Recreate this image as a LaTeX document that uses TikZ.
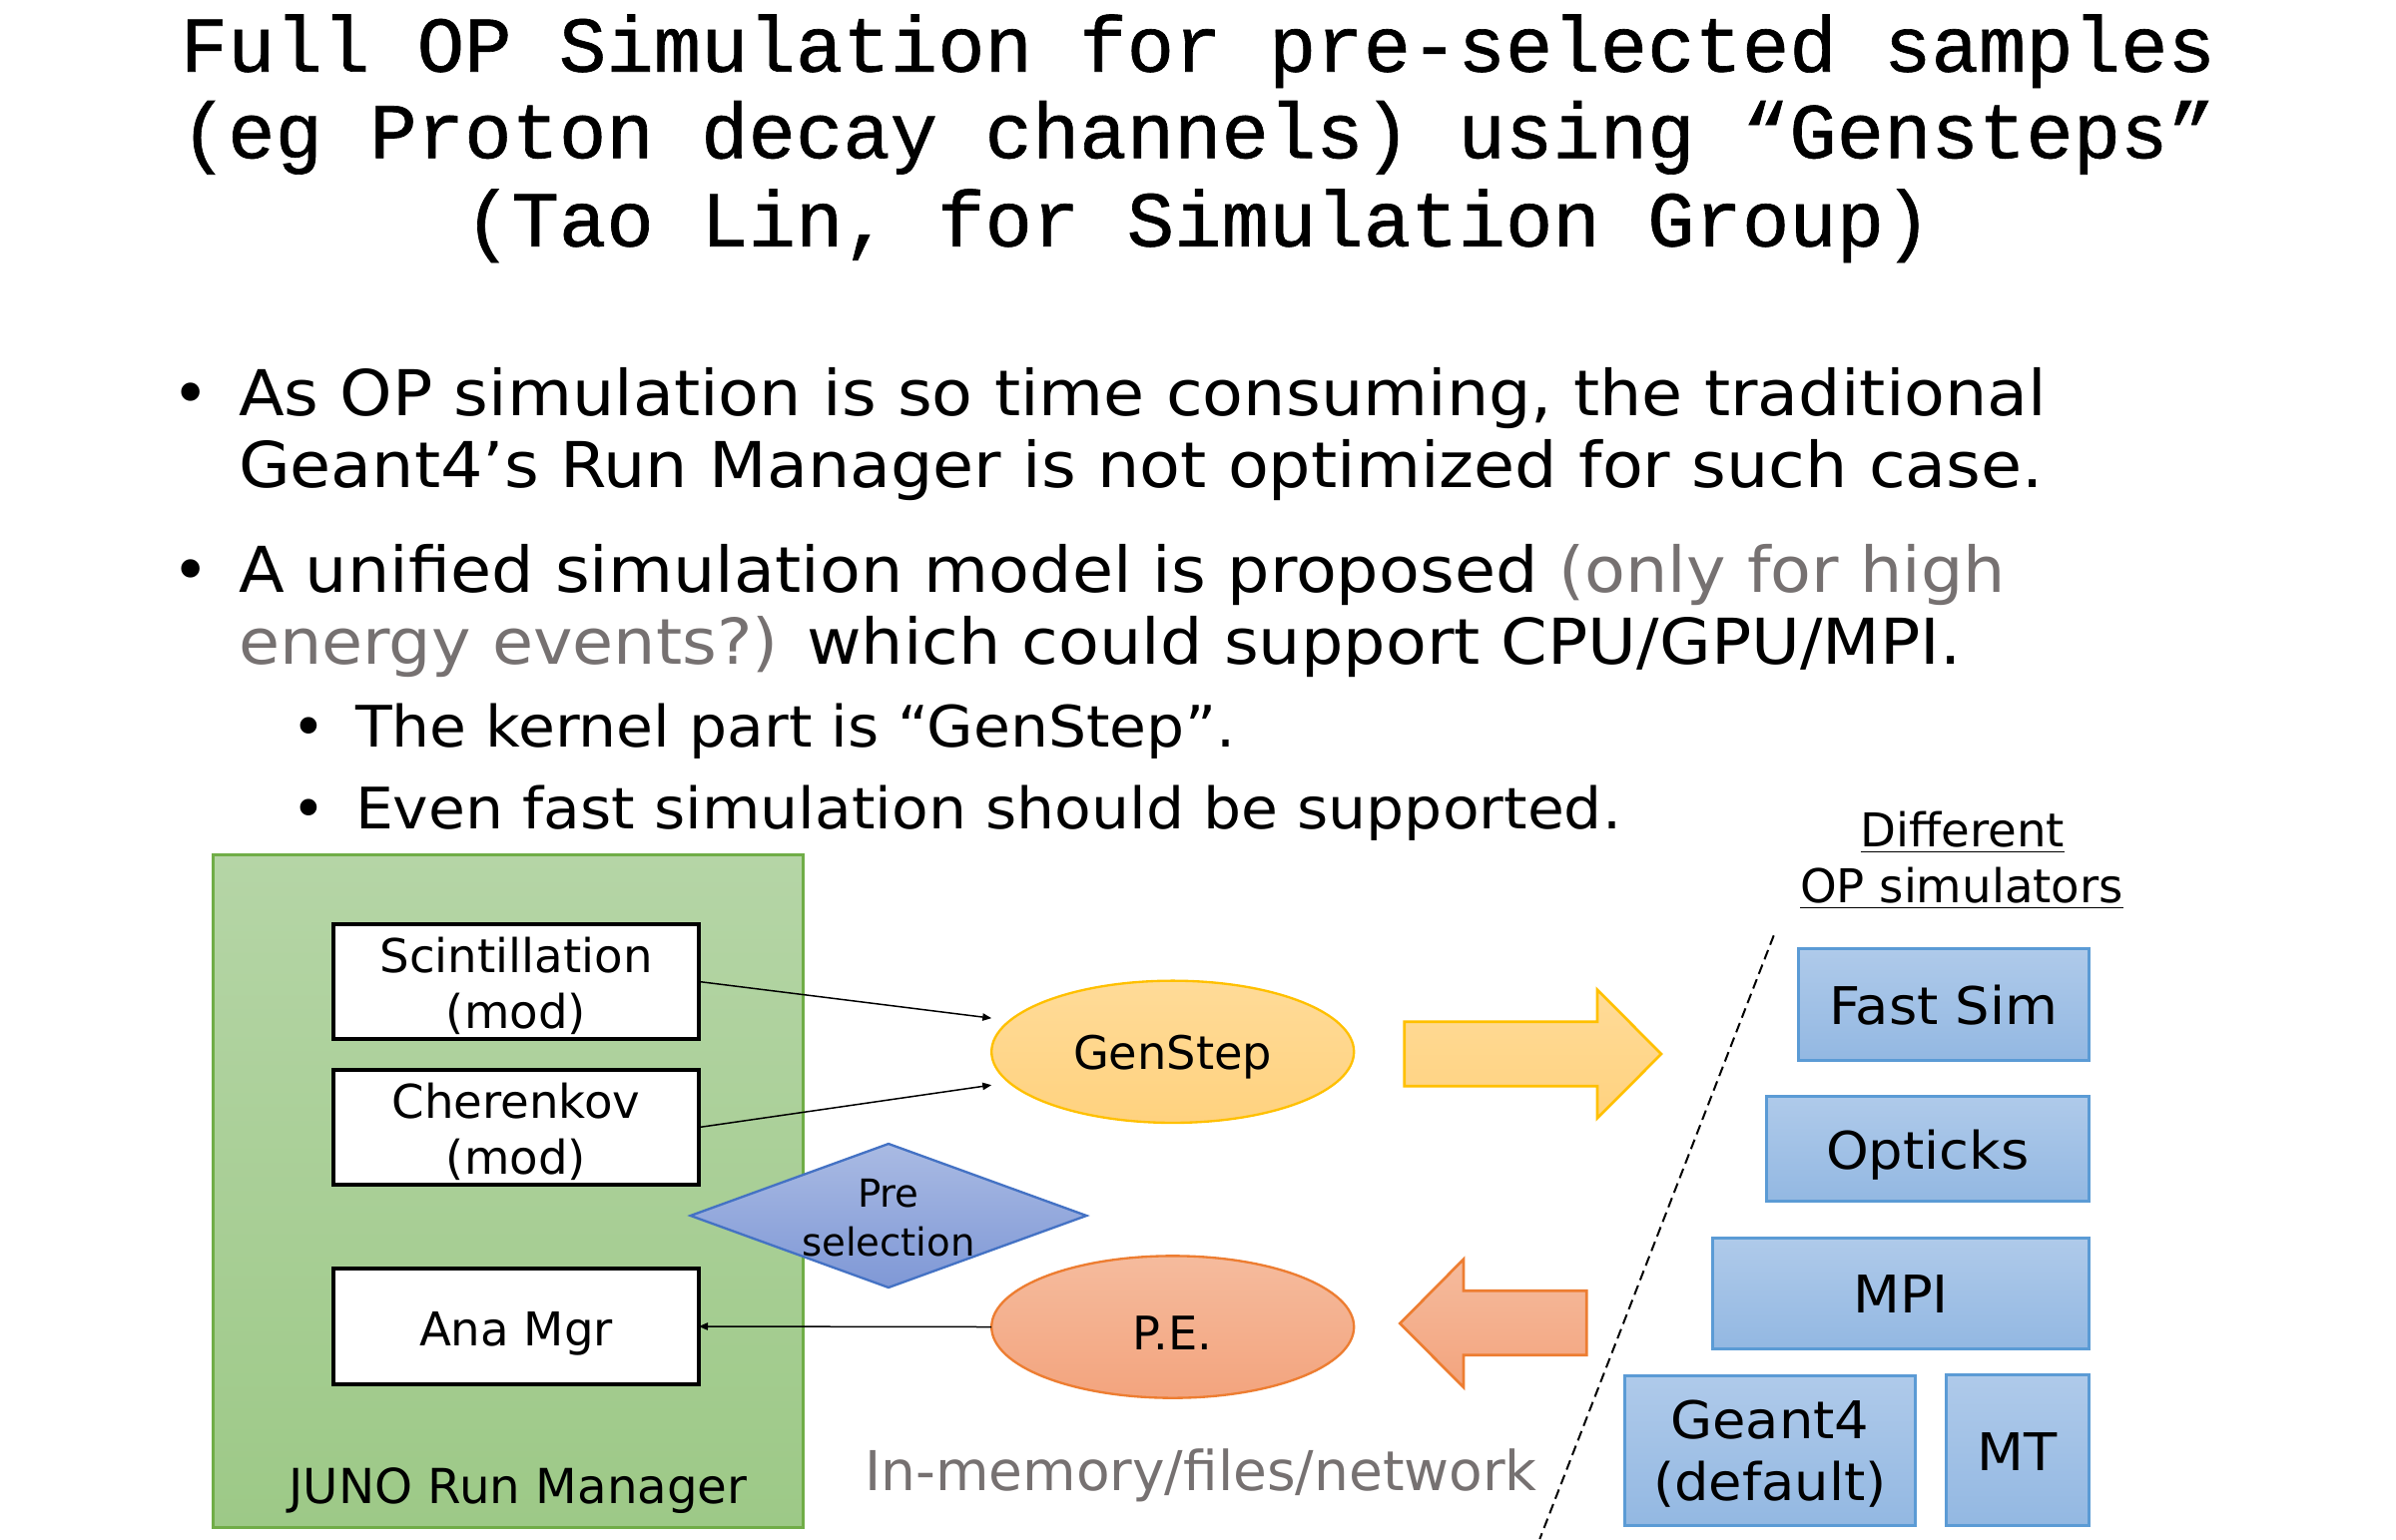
\documentclass[tikz,border=0pt]{standalone}
\usepackage{fontspec}
\setmainfont{DejaVu Sans}
\newfontfamily\monofont[FakeBold=0.8]{Liberation Mono}
\newfontfamily\bfa[FakeStretch=1.055]{DejaVu Sans}
\newfontfamily\bfb[FakeStretch=1.047]{DejaVu Sans}
\newfontfamily\bfc[FakeStretch=1.045]{DejaVu Sans}
\usetikzlibrary{arrows.meta,shapes.geometric}
\definecolor{grtop}{HTML}{B5D5A6}
\definecolor{grbot}{HTML}{9DC987}
\definecolor{grborder}{HTML}{70AD47}
\definecolor{gstop}{HTML}{FFDB98}
\definecolor{gsbot}{HTML}{FFD27F}
\definecolor{gsborder}{HTML}{FFC000}
\definecolor{petop}{HTML}{F5BB9D}
\definecolor{pebot}{HTML}{F3A47E}
\definecolor{peborder}{HTML}{ED7D31}
\definecolor{dtop}{HTML}{A9BAE3}
\definecolor{dbot}{HTML}{7F98D6}
\definecolor{dborder}{HTML}{4472C4}
\definecolor{btop}{HTML}{AFCAEA}
\definecolor{bbot}{HTML}{93B8E2}
\definecolor{bborder}{HTML}{5B9BD5}
\definecolor{grayt}{HTML}{767171}
\begin{document}
\begin{tikzpicture}[x=0.3pt,y=-0.3pt,
  every node/.style={inner sep=0pt, outer sep=0pt},
  titletxt/.style={font=\monofont\fontsize{23.7}{28}\selectfont, anchor=base},
  btext/.style={font=\bfa\fontsize{19}{23}\selectfont, anchor=base west},
  bdot/.style={font=\fontsize{19}{23}\selectfont, anchor=base},
  stext/.style={font=\bfb\fontsize{17.2}{21}\selectfont, anchor=base west},
  sdot/.style={font=\fontsize{17.2}{21}\selectfont, anchor=base},
  wbox/.style={draw=black, line width=1pt, fill=white, minimum width=109.8pt, minimum height=34.5pt},
  boxtxt/.style={font=\fontsize{14}{17}\selectfont, anchor=base},
  bluebox/.style={draw=bborder, line width=0.9pt, top color=btop, bottom color=bbot},
  bluetxt/.style={font=\bfc\fontsize{15.6}{18}\selectfont, anchor=base},
  ovaltxt/.style={font=\fontsize{13.9}{16}\selectfont, anchor=base},
  pretxt/.style={font=\fontsize{11.6}{14}\selectfont, anchor=base},
  headtxt/.style={font=\fontsize{14}{16}\selectfont, anchor=base},
  conn/.style={-{Triangle[length=2.7pt,width=2.2pt]}, line width=0.45pt},
  bigarrow/.style={line width=0.8pt},
  divider/.style={line width=0.6pt, dash pattern=on 3pt off 1.7pt},
]
\fill[white] (0,0) rectangle (2400,1542);
\useasboundingbox (0,0) rectangle (2400,1542);

% title
\node[titletxt] (t1) at (1200,71.7) {Full OP Simulation for pre-selected samples};
\node[titletxt] (t2) at (1200,158.3) {(eg Proton decay channels) using “Gensteps”};
\node[titletxt] (t3) at (1200,246.7) {(Tao Lin, for Simulation Group)};

% bullets
\node[bdot] (d1) at (190.8,416) {•};
\node[btext] (b1a) at (239,416) {As OP simulation is so time consuming, the traditional};
\node[btext] (b1b) at (239,488.3) {Geant4’s Run Manager is not optimized for such case.};
\node[bdot] (d2) at (190.8,593.3) {•};
\node[btext] (b2a) at (239,593.3) {A unified simulation model is proposed \textcolor{grayt}{(only for high}};
\node[btext] (b2b) at (239,665) {\textcolor{grayt}{energy events?)} which could support CPU/GPU/MPI.};
\node[sdot] (d3) at (309,748.3) {•};
\node[stext] (s1) at (356,748.3) {The kernel part is “GenStep”.};
\node[sdot] (d4) at (309,830) {•};
\node[stext] (s2) at (356,830) {Even fast simulation should be supported.};

% JUNO run manager
\node[draw=grborder, line width=0.9pt, top color=grtop, bottom color=grbot,
      minimum width=177.3pt, minimum height=202.2pt] (juno) at (508.5,1193) {};
\node[font=\fontsize{14.5}{17}\selectfont, anchor=base] (junolbl) at (519,1506.7) {JUNO Run Manager};

\node[wbox] (scint) at (517,983.5) {};
\node[boxtxt] (scintA) at (517,974) {Scintillation};
\node[boxtxt] (scintB) at (517,1030.7) {(mod)};
\node[wbox] (cher) at (517,1129.5) {};
\node[boxtxt] (cherA) at (517,1120) {Cherenkov};
\node[boxtxt] (cherB) at (517,1176.7) {(mod)};
\node[wbox, minimum height=34.8pt] (ana) at (517,1329) {};
\node[boxtxt] (anaT) at (517,1348) {Ana Mgr};

% preselection
\node[diamond, draw=dborder, line width=0.7pt, top color=dtop, bottom color=dbot,
      minimum width=119pt, minimum height=43.2pt] (pre) at (890,1218) {};
\node[pretxt] (preA) at (890,1209.3) {Pre};
\node[pretxt] (preB) at (890,1258.3) {selection};

% ovals
\node[ellipse, draw=gsborder, line width=0.7pt, top color=gstop, bottom color=gsbot,
      minimum width=108.9pt, minimum height=42.7pt] (gen) at (1174.7,1053.8) {};
\node[ovaltxt] (genT) at (1174.7,1071.7) {GenStep};
\node[ellipse, draw=peborder, line width=0.7pt, top color=petop, bottom color=pebot,
      minimum width=108.9pt, minimum height=42.7pt] (pe) at (1174.7,1329.5) {};
\node[ovaltxt] (peT) at (1174.7,1352.5) {P.E.};

% connectors
\draw[conn] (scint.east) -- ([yshift=10.1pt]gen.west);
\draw[conn] (cher.east) -- ([yshift=-10pt]gen.west);
\draw[conn] (pe.west) -- (ana.east);

% big arrows
\draw[bigarrow, draw=gsborder, top color=gstop, bottom color=gsbot]
  (1406.7,1023.8) -- (1600,1023.8) -- (1600,991.7) -- (1664,1056) -- (1600,1120.3)
  -- (1600,1088.2) -- (1406.7,1088.2) -- cycle;
\draw[bigarrow, draw=peborder, top color=petop, bottom color=pebot]
  (1402.3,1326) -- (1466,1261.7) -- (1466,1293.3) -- (1589.3,1293.3) -- (1589.3,1357.7)
  -- (1466,1357.7) -- (1466,1390) -- cycle;

% divider
\draw[divider] (1776.7,937.3) -- (1542.3,1542);

% simulators
\node[headtxt] (h1) at (1965.8,848) {\underline{Different}};
\node[headtxt] (h2) at (1965,904) {\underline{OP simulators}};

\node[bluebox, minimum width=87.2pt, minimum height=33.6pt] (fast) at (1947,1006) {};
\node[bluetxt] (fastT) at (1947,1026) {Fast Sim};
\node[bluebox, minimum width=97pt, minimum height=31.5pt] (opt) at (1930.65,1150.8) {};
\node[bluetxt] (optT) at (1930.65,1171.7) {Opticks};
\node[bluebox, minimum width=113pt, minimum height=33.3pt] (mpi) at (1904,1295.5) {};
\node[bluetxt] (mpiT) at (1904,1315) {MPI};
\node[bluebox, minimum width=87.1pt, minimum height=45.1pt] (g4) at (1772.85,1453.15) {};
\node[bluetxt] (g4A) at (1772.85,1441.7) {Geant4};
\node[bluetxt] (g4B) at (1772.85,1503.3) {(default)};
\node[bluebox, minimum width=42.8pt, minimum height=45.4pt] (mt) at (2020.9,1452.65) {};
\node[bluetxt] (mtT) at (2020.9,1473.3) {MT};

\node[font=\fontsize{16.5}{20}\selectfont, text=grayt, anchor=base] (net) at (1203,1493.3) {In-memory/files/network};
\end{tikzpicture}
\end{document}
